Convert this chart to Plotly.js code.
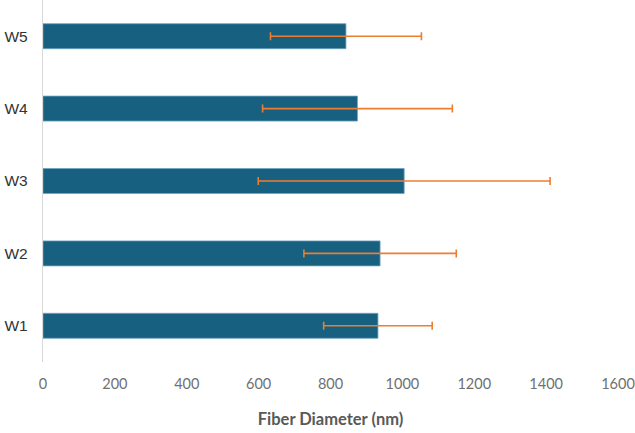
<!DOCTYPE html>
<html>
<head>
<meta charset="utf-8">
<script src="https://cdn.plot.ly/plotly-3.0.1.min.js"></script>
<style>html,body{margin:0;padding:0;background:#fff;}#chart{width:635px;height:433px;}</style>
</head>
<body>
<div id="chart"></div>
<script>
const samples = ['W1', 'W2', 'W3', 'W4', 'W5'];
const meanDiameter = [932, 938, 1005, 875, 843];
const stdDiameter = [151, 212, 406, 264, 210];
const xTicks = [0, 200, 400, 600, 800, 1000, 1200, 1400, 1600];

const trace = {
  type: 'bar',
  orientation: 'h',
  y: samples,
  x: meanDiameter,
  marker: {color: '#17607f', line: {color: '#6fa3c0', width: 0.8}},
  error_x: {type: 'data', array: stdDiameter, visible: true, color: '#ed7d31', thickness: 1.6, width: 4},
  hoverinfo: 'none'
};

const layout = {
  width: 635, height: 433,
  margin: {l: 43, r: 17, t: 0, b: 71},
  paper_bgcolor: '#ffffff', plot_bgcolor: '#ffffff',
  showlegend: false,
  bargap: 0.655,
  xaxis: {
    range: [0, 1600],
    tickvals: xTicks,
    ticktext: xTicks.map(String),
    showgrid: false, zeroline: false, showline: false,
    ticks: '',
    ticklabelstandoff: 11,
    ticklabeloverflow: 'allow',
    tickfont: {family: 'Lato, Carlito, sans-serif', size: 14.5, color: '#707070'},
    title: {text: 'Fiber Diameter (nm)', standoff: 22,
            font: {family: 'Lato, Carlito, sans-serif', size: 16.5, color: '#595959', weight: 'bold'}}
  },
  yaxis: {
    type: 'category',
    showgrid: false, zeroline: false,
    showline: true, linecolor: '#d9d9d9', linewidth: 1.2,
    ticks: '',
    ticklabelstandoff: 11,
    tickfont: {family: 'Liberation Sans', size: 15.5, color: '#333333', weight: 400}
  }
};

Plotly.newPlot('chart', [trace], layout, {displayModeBar: false, staticPlot: true});
</script>
</body>
</html>
